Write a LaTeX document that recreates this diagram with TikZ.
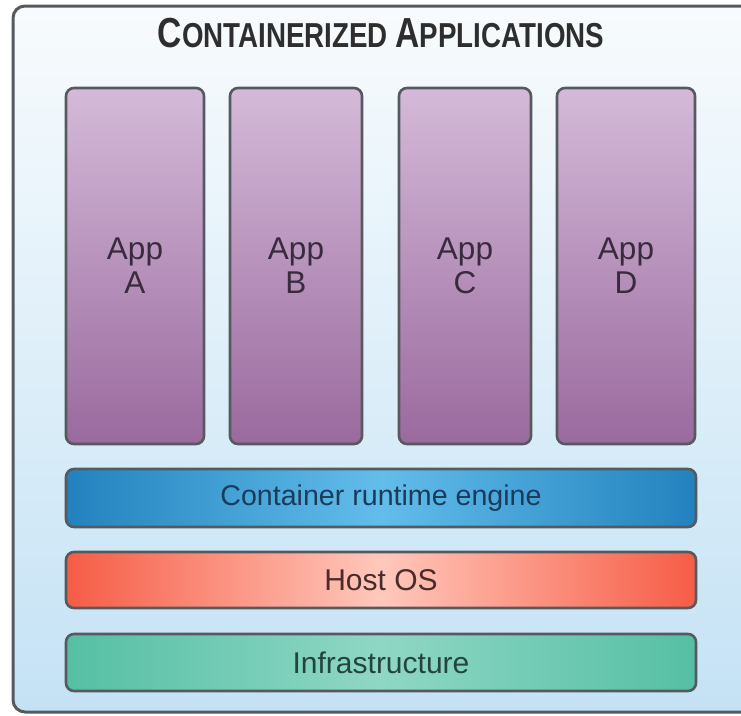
\documentclass[tikz,border=0pt]{standalone}
\usepackage{fontspec}
\setmainfont{Liberation Sans}
\usepackage{graphicx}
\usepackage{tikz}
\usetikzlibrary{positioning}
\definecolor{framec}{HTML}{565A5E}
\definecolor{skytop}{HTML}{F8FBFD}
\definecolor{skybot}{HTML}{C4E2F5}
\definecolor{apptop}{HTML}{D4BAD8}
\definecolor{appbot}{HTML}{9A6A9E}
\definecolor{apptext}{HTML}{3A2A3E}
\definecolor{rtedge}{HTML}{2382BE}
\definecolor{rtmid}{HTML}{62BDEB}
\definecolor{rttext}{HTML}{1A3C5A}
\definecolor{osedge}{HTML}{F65C45}
\definecolor{osmid}{HTML}{FFC8BC}
\definecolor{ostext}{HTML}{4A2C2C}
\definecolor{infedge}{HTML}{55BFA4}
\definecolor{infmid}{HTML}{8FD7C5}
\definecolor{inftext}{HTML}{22453E}
\definecolor{titlec}{HTML}{2E2E2E}
\tikzset{
  appbox/.style={draw=framec,line width=2.6pt,rounded corners=8pt,top color=apptop,bottom color=appbot,
    text=apptext,align=center,font=\fontsize{31.5}{34}\selectfont,minimum height=356pt,inner sep=0pt},
  layer/.style={draw=framec,line width=2.6pt,rounded corners=8pt,minimum width=630pt,inner sep=0pt,
    font=\fontsize{30}{30}\selectfont}
}
\begin{document}
\begin{tikzpicture}[x=1pt,y=-1pt]
\useasboundingbox (0,0) rectangle (741,715);
% outer frame, runs past the right edge
\draw[framec,line width=3pt,rounded corners=12pt,top color=skytop,bottom color=skybot]
  (13,6) rectangle (770,712);
\node[anchor=base,text=titlec,font=\bfseries] (title) at (381,47)
  {\scalebox{0.84}[1.05]{\fontsize{40}{40}\selectfont C\fontsize{33}{33}\selectfont ONTAINERIZED
   \fontsize{40}{40}\selectfont A\fontsize{33}{33}\selectfont PPLICATIONS}};
% application containers
\node[appbox,minimum width=138pt] (appA) at (135,266) {App\\A};
\node[appbox,minimum width=132pt] (appB) at (296,266) {App\\B};
\node[appbox,minimum width=132pt] (appC) at (465,266) {App\\C};
\node[appbox,minimum width=138pt] (appD) at (626,266) {App\\D};
% stack underneath
\node[layer,minimum height=58pt,left color=rtedge,right color=rtedge,middle color=rtmid,text=rttext,
  font=\fontsize{28.6}{30}\selectfont] (runtime) at (381,498) {Container runtime engine};
\node[layer,minimum height=56pt,left color=osedge,right color=osedge,middle color=osmid,text=ostext]
  (hostos) at (381,580) {Host OS};
\node[layer,minimum height=57pt,left color=infedge,right color=infedge,middle color=infmid,text=inftext]
  (infra) at (381,662.5) {Infrastructure};
\end{tikzpicture}
\end{document}
